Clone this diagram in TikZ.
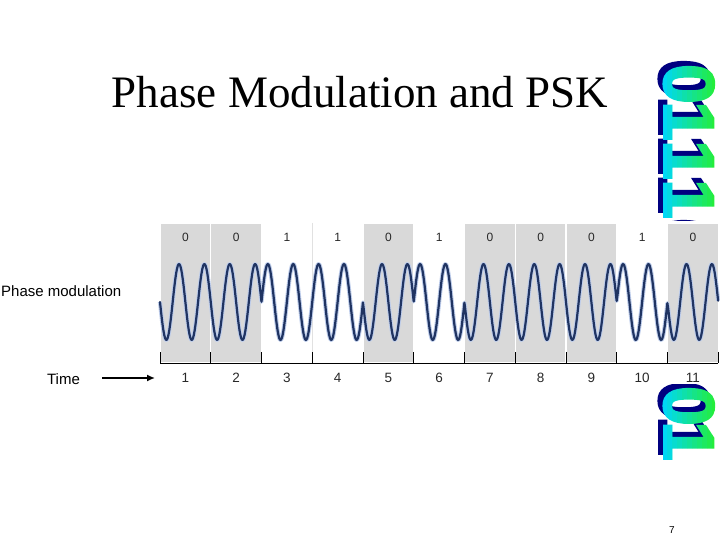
\documentclass[tikz,border=0pt]{standalone}
\usepackage{fontspec}
\setmainfont{Liberation Serif}
\newfontfamily\labfont{Liberation Sans}
\newfontfamily\bigdigfont{Liberation Sans}[BoldFeatures={FakeBold=2.5}]
\usetikzlibrary{arrows.meta}
\definecolor{cellgray}{RGB}{217,217,217}
\definecolor{sepgray}{RGB}{225,225,225}
\definecolor{wavenavy}{RGB}{32,52,98}
\definecolor{wavehalo}{RGB}{190,205,235}
\definecolor{gcyan}{RGB}{0,215,245}
\definecolor{ggreen}{RGB}{40,240,40}
\definecolor{shadownavy}{RGB}{0,0,128}
\definecolor{labgray}{RGB}{40,40,40}
\tikzset{
  bigdig/.style={font=\bigdigfont\bfseries\fontsize{72}{72}\selectfont,
    inner sep=0pt, anchor=base, rotate=-90},
  sidelab/.style={font=\labfont\fontsize{15}{18}\selectfont, inner sep=0pt},
  bitlab/.style={font=\labfont\fontsize{12}{14}\selectfont, text=labgray, inner sep=0pt},
  timelab/.style={font=\labfont\fontsize{13.5}{16}\selectfont, text=labgray, inner sep=0pt},
  cellbox/.style={fill=cellgray, draw=white, line width=1.2pt},
  wavehalo/.style={draw=wavehalo, line width=4.2pt, line join=round},
  wavepen/.style={draw=wavenavy, line width=2.2pt, line join=round, line cap=round},
  axisline/.style={draw=black, line width=1pt},
}
% draws the decorative rotated digits; #1 colour, #2 x of baseline, #3 y offset, #4 name prefix
\newcommand\drawdigits[4]{%
  \foreach \d/\yy [count=\n] in {0/84,1/121,1/160,1/199,0/243,0/406,1/441}
    \node[bigdig, text=#1] (#4\n) at (#2, \yy+#3) {\d};
}
\def\bitsigns{{1,1,-1,-1,1,-1,1,1,1,-1,1}}
\begin{document}
\begin{tikzpicture}[x=1pt, y=-1pt]
\useasboundingbox (0,0) rectangle (720,540);
\fill[white] (0,0) rectangle (720,540);

% decorative digits: shadow then gradient face
\drawdigits{shadownavy}{659}{-5}{shd}
\foreach \i in {0,...,11} {
  \pgfmathtruncatemacro\p{100*\i/11}
  \begin{scope}
    \clip (662+5*\i, 0) rectangle (667.2+5*\i, 540);
    \drawdigits{ggreen!\p!gcyan}{664}{0}{fc}
  \end{scope}
}

% white backing of the chart
\fill[white] (150,221) rectangle (720,384);

% title
\node[anchor=base, font=\fontsize{45}{50}\selectfont, inner sep=0pt] (title) at (360,108) {Phase Modulation and PSK};

% cells
\foreach \b [count=\k from 0] in {0,0,1,1,0,1,0,0,0,1,0} {
  \ifnum\b=0
    \path[cellbox] ({160+50.75*\k}, 223) rectangle ({160+50.75*(\k+1)}, 363);
  \fi
  \node[bitlab] (bit\k) at ({160+50.75*(\k+0.5)}, 237) {\b};
}
\draw[sepgray, line width=0.8pt] ({160+50.75*3}, 223) -- ({160+50.75*3}, 363);

% wave
\draw[wavehalo] plot[domain=0:11, samples=661, variable=\t]
  ({160+50.75*\t}, {302+38*\bitsigns[min(int(\t),10)]*sin(720*\t)});
\draw[wavepen] plot[domain=0:11, samples=661, variable=\t]
  ({160+50.75*\t}, {302+38*\bitsigns[min(int(\t),10)]*sin(720*\t)});

% axis and ticks
\draw[axisline] (160,363) -- (718.25,363);
\foreach \k in {0,...,11}
  \draw[axisline] ({160+50.75*\k}, 352) -- ({160+50.75*\k}, 363);
\foreach \k in {1,...,11}
  \node[timelab] (time\k) at ({160+50.75*(\k-0.5)}, 378) {\k};

% side labels
\node[sidelab, anchor=west] (pm) at (1,291) {Phase modulation};
\node[sidelab] (tm) at (63.5,379) {Time};
\coordinate (arrs) at (102,378);
\coordinate (arre) at (155,378);
\draw[line width=1.5pt, -{Latex[length=8pt, width=7pt]}] (arrs) -- (arre);

% page number
\node[font=\labfont\fontsize{10}{12}\selectfont, inner sep=0pt] (pg) at (672,530) {7};
\end{tikzpicture}
\end{document}
